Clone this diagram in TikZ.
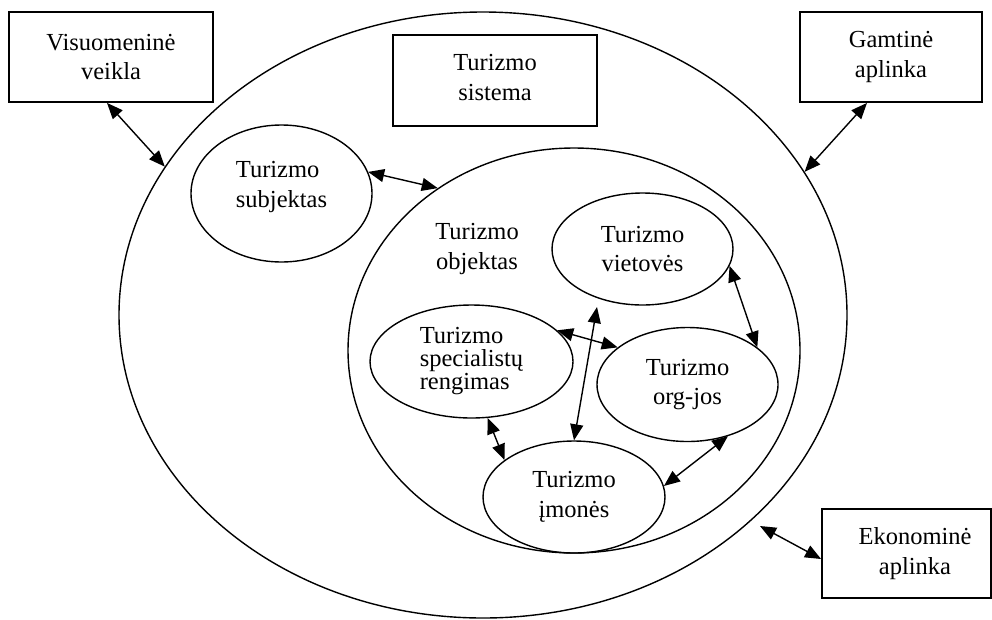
\documentclass[tikz,border=0pt]{standalone}
\usepackage{fontspec}
\setmainfont{Liberation Serif}
\usetikzlibrary{shapes.geometric,arrows.meta}
\newcommand\mytightlines{\lineskiplimit=-100pt\relax}
\begin{document}
\begin{tikzpicture}[x=1pt,y=-1pt,
  every node/.style={font=\fontsize{24.5}{29.5}\selectfont},
  box/.style={draw,line width=1.8pt,rectangle,inner sep=0pt},
  ell/.style={draw,line width=1.4pt,ellipse,inner sep=0pt},
  link/.style={line width=1.4pt,{Triangle[length=16pt,width=13pt]}-{Triangle[length=16pt,width=13pt]}}]
\useasboundingbox (0,0) rectangle (992,619);
% containers
\node[ell, minimum width=728pt, minimum height=606pt] (outer) at (483,315) {};
\node[ell, minimum width=452pt, minimum height=405pt] (obj) at (574,350.5) {};
\node[align=center] (objlbl) at (477,249) {Turizmo\\objektas};
% boxes
\node[box, minimum width=204pt, minimum height=90pt, align=center] (vis) at (111,57) {Visuomeninė\\veikla};
\node[box, minimum width=204pt, minimum height=91pt,
  label={[align=center,yshift=2.8pt]center:{Turizmo\\sistema}}] (sis) at (495,80.5) {};
\node[box, minimum width=182pt, minimum height=90pt, align=center] (gam) at (891,57) {Gamtinė\\aplinka};
\node[box, minimum width=169pt, minimum height=89pt,
  label={[align=center,xshift=8.5pt]center:{Ekonominė\\aplinka}}] (eko) at (906.5,553.5) {};
% inner ellipses
\node[ell, minimum width=181pt, minimum height=137pt,
  label={[align=left,yshift=6.7pt]center:{Turizmo\\subjektas}}] (subj) at (281.5,193.5) {};
\node[ell, minimum width=181pt, minimum height=112pt, align=center] (viet) at (642.5,249) {Turizmo\\vietovės};
\node[ell, minimum width=181pt, minimum height=114pt, align=center] (org) at (687.5,384.5) {Turizmo\\org-jos};
\node[ell, minimum width=203pt, minimum height=113pt, align=left,
  font={\fontsize{24.5}{23}\selectfont\mytightlines}] (spec) at (471.5,361.5) {Turizmo\\specialistų\\rengimas};
\node[ell, minimum width=182pt, minimum height=112pt, align=center] (imo) at (574,497) {Turizmo\\įmonės};
% free ends
\coordinate (ekoend) at (760,526);
\coordinate (vtop) at (597,307);
% connectors
\draw[link] ([xshift=-4pt]vis.south) -- (outer.155.4);
\draw[link] ([xshift=-24pt]gam.south) -- (outer.24.6);
\draw[link] ([yshift=-5.5pt]eko.west) -- (ekoend);
\draw[link] (subj.14.4) -- (obj.130.8);
\draw[link] (spec.20.7) -- (org.152.6);
\draw[link] (vtop) -- (imo.north);
\draw[link] (viet.-11.9) -- (org.28.8);
\draw[link] (spec.-74.7) -- (imo.152.8);
\draw[link] (imo.7.35) -- (org.-52.5);
\end{tikzpicture}
\end{document}
